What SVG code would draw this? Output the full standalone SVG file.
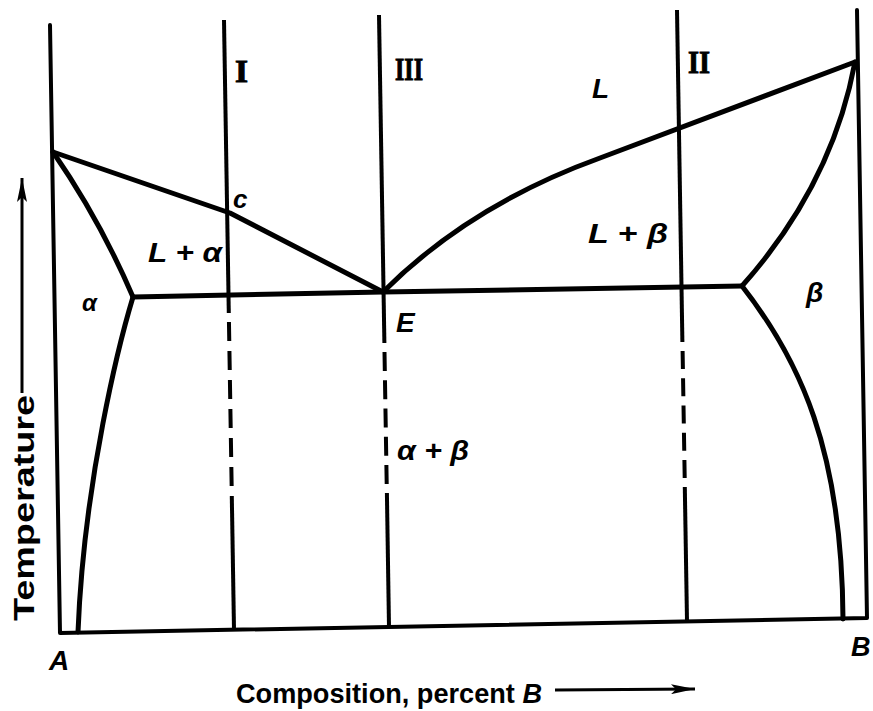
<svg xmlns="http://www.w3.org/2000/svg" width="873" height="711" viewBox="0 0 873 711">
<style>
.ax{fill:none;stroke:#000;stroke-width:4;stroke-linecap:round;stroke-linejoin:round}
.cv{fill:none;stroke:#000;stroke-width:5;stroke-linecap:round;stroke-linejoin:round}
.vl{fill:none;stroke:#000;stroke-width:4;stroke-linecap:butt}
.lab{font-family:"Liberation Sans",Arial,sans-serif;font-weight:bold;font-style:italic;fill:#000}
.rom{font-family:"Liberation Serif","Times New Roman",serif;font-weight:bold;fill:#000;stroke:#000;stroke-width:1}
.axt{font-family:"Liberation Sans",Arial,sans-serif;font-weight:bold;fill:#000}
</style>
<defs>
<marker id="ah" viewBox="0 0 24 10" refX="24" refY="5" markerWidth="24" markerHeight="10" markerUnits="userSpaceOnUse" orient="auto">
<path d="M0,0 L24,5 L0,10 L5,5 Z" fill="#000"/>
</marker>
</defs>
<rect width="873" height="711" fill="#fff"/>
<g id="frame">
<path class="ax" d="M50,25 L60,633 L867,618 L857,10"/>
</g>
<g id="connectors">
<path id="liquidus-left" class="cv" d="M53,152 L230,213 L383,292"/>
<path id="solidus-left" class="cv" d="M53,152 Q100,220 133,297"/>
<path id="solvus-left" class="cv" d="M133,297 C120,340 84,480 78,632"/>
<path id="eutectic" class="cv" d="M133,297 L383,292 L742,286"/>
<path id="liquidus-right" class="cv" d="M383,292 Q470,205 600,158 L855,62"/>
<path id="solidus-right" class="cv" d="M855,62 Q832,185 742,286"/>
<path id="solvus-right" class="cv" d="M742,286 C800,360 842,450 843,619"/>
</g>
<g id="line-I">
<path class="vl" d="M224,20 L228.8,313"/>
<path class="vl" d="M228.95,322 L231.65,486" stroke-dasharray="19 10"/>
<path class="vl" d="M231.8,496 L234,630"/>
</g>
<g id="line-III">
<path class="vl" d="M379,15 L384.4,343"/>
<path class="vl" d="M384.5,352 L386.7,484" stroke-dasharray="19 9.25"/>
<path class="vl" d="M386.9,493 L389,627"/>
</g>
<g id="line-II">
<path class="vl" d="M677,10 L682.4,342"/>
<path class="vl" d="M682.6,351 L684.7,478" stroke-dasharray="18 9.25"/>
<path class="vl" d="M684.8,487 L687,621"/>
</g>
<g id="labels">
<text class="rom" x="235" y="82" font-size="32" textLength="13" lengthAdjust="spacingAndGlyphs">I</text>
<text class="rom" x="395" y="80" font-size="32" textLength="28" lengthAdjust="spacingAndGlyphs">III</text>
<text class="rom" x="688" y="73" font-size="32" textLength="22" lengthAdjust="spacingAndGlyphs">II</text>
<text class="lab" x="592" y="98" font-size="28">L</text>
<text class="lab" x="233" y="208" font-size="26">c</text>
<text class="lab" x="148" y="262" font-size="28" textLength="74" lengthAdjust="spacingAndGlyphs">L + α</text>
<text class="lab" x="82" y="311" font-size="24">α</text>
<text class="lab" x="396" y="332" font-size="28">E</text>
<text class="lab" x="588" y="243" font-size="28" textLength="80" lengthAdjust="spacingAndGlyphs">L + β</text>
<text class="lab" x="806" y="302" font-size="28">β</text>
<text class="lab" x="397" y="460" font-size="28" textLength="72" lengthAdjust="spacingAndGlyphs">α + β</text>
<text class="lab" x="49" y="670" font-size="28">A</text>
<text class="lab" x="851" y="656" font-size="27">B</text>
</g>
<g id="axis-labels">
<text class="axt" x="236" y="703" font-size="27" textLength="306" lengthAdjust="spacingAndGlyphs">Composition, percent <tspan font-style="italic">B</tspan></text>
<path d="M555,690 L695,689" stroke="#000" stroke-width="3" fill="none" marker-end="url(#ah)"/>
<text class="axt" transform="translate(34,621) rotate(-90)" font-size="29" textLength="226" lengthAdjust="spacingAndGlyphs">Temperature</text>
<path d="M22,393 L22,178" stroke="#000" stroke-width="3" fill="none" marker-end="url(#ah)"/>
</g>
</svg>
